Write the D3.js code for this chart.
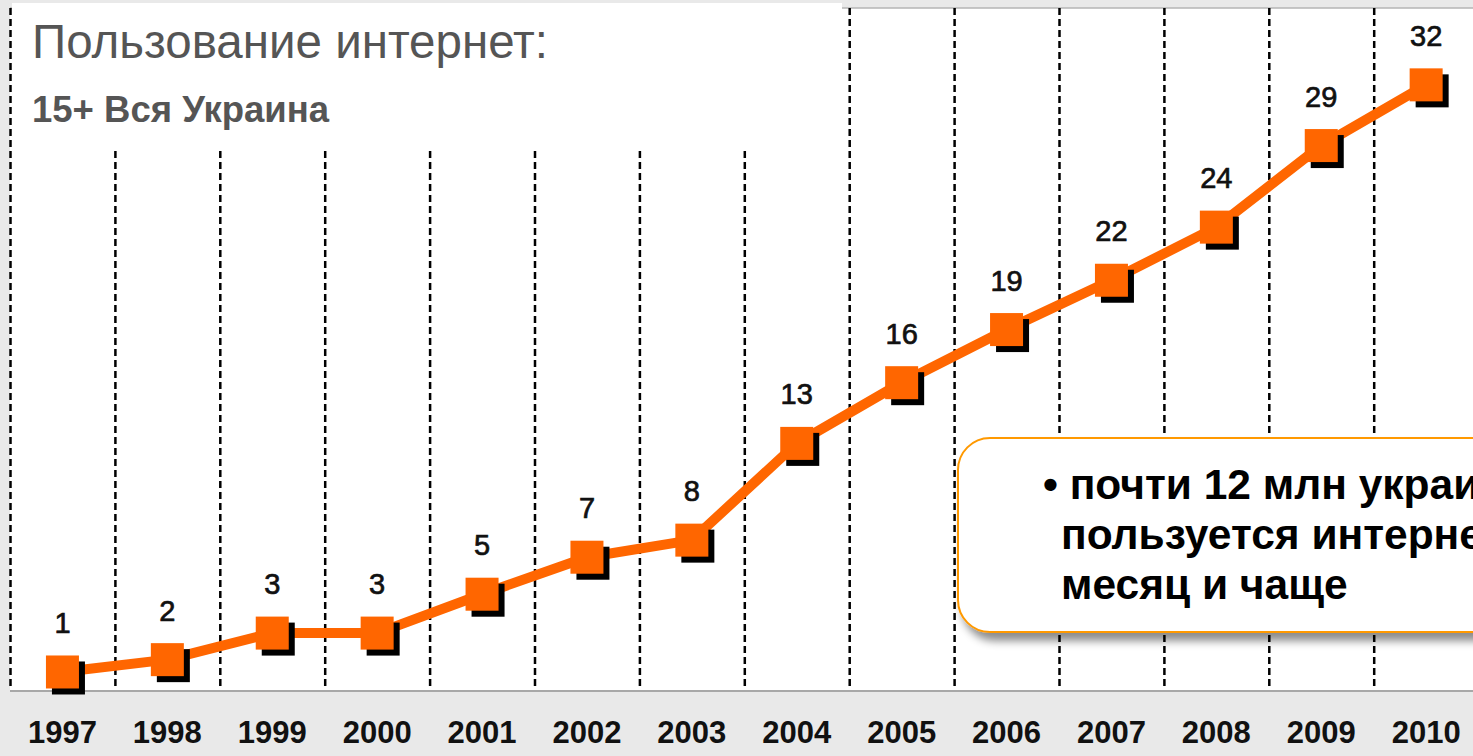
<!DOCTYPE html>
<html>
<head>
<meta charset="utf-8">
<script src="https://cdn.jsdelivr.net/npm/d3@7"></script>
<style>
  body { margin: 0; background: #e9e9e9; }
  svg { display: block; font-family: "Liberation Sans", Arial, sans-serif; }
</style>
</head>
<body>
<div id="chart"></div>
<script>
const years = ["1997", "1998", "1999", "2000", "2001", "2002", "2003",
               "2004", "2005", "2006", "2007", "2008", "2009", "2010"];
const usage = [0.95, 1.6, 3, 3, 5.05, 7, 7.9, 13, 16.2, 19, 21.6, 24.4, 28.7, 31.9];
const labels = ["1", "2", "3", "3", "5", "7", "8", "13", "16", "19", "22", "24", "29", "32"];

const title = "Пользование интернет:";
const subtitle = "15+ Вся Украина";
const note = ["• почти 12 млн украинцев", "пользуется интернетом раз в", "месяц и чаще"];

const width = 1473,
    height = 756;

const margin = { top: 8, left: 10, bottom: 66 };
const step = 104.9;

const x = d3.scaleBand()
    .domain(years)
    .range([margin.left, margin.left + step * years.length])
    .padding(0);

const y = d3.scaleLinear()
    .domain([0, 35])
    .range([height - margin.bottom, height - margin.bottom - 35 * 18.97]);

const orange = "#ff6600";

const svg = d3.select("#chart").append("svg")
    .attr("width", width)
    .attr("height", height);

const defs = svg.append("defs");
const shadow = defs.append("filter")
    .attr("id", "boxShadow")
    .attr("x", "-10%").attr("y", "-10%")
    .attr("width", "130%").attr("height", "140%");
shadow.append("feDropShadow")
    .attr("dx", 5)
    .attr("dy", 8)
    .attr("stdDeviation", 4)
    .attr("flood-color", "#000")
    .attr("flood-opacity", 0.45);

svg.append("rect")
    .attr("width", width)
    .attr("height", height)
    .attr("fill", "#e9e9e9");

// plot area
svg.append("rect")
    .attr("x", margin.left)
    .attr("y", margin.top)
    .attr("width", width - margin.left + 10)
    .attr("height", y(0) - margin.top)
    .attr("fill", "#fff");

svg.append("line")
    .attr("x1", margin.left).attr("x2", width)
    .attr("y1", margin.top).attr("y2", margin.top)
    .attr("stroke", "#b5b5b5")
    .attr("stroke-width", 1.5);

// dashed gridlines at band edges
svg.append("g")
    .selectAll("line")
    .data(years)
  .enter().append("line")
    .attr("x1", function(d) { return x(d) + 0.5; })
    .attr("x2", function(d) { return x(d) + 0.5; })
    .attr("y1", margin.top)
    .attr("y2", y(0))
    .attr("stroke", "#000")
    .attr("stroke-width", 2.5)
    .attr("stroke-dasharray", "7,4");

// title box covers the upper gridlines
svg.append("rect")
    .attr("x", margin.left + 2)
    .attr("y", 3)
    .attr("width", 830)
    .attr("height", 145)
    .attr("fill", "#fff");

svg.append("text")
    .attr("x", 32)
    .attr("y", 58)
    .attr("fill", "#555")
    .style("font-size", "47.5px")
    .text(title);

svg.append("text")
    .attr("x", 32)
    .attr("y", 122)
    .attr("fill", "#555")
    .style("font-size", "36.5px")
    .style("font-weight", "bold")
    .text(subtitle);

// x axis
svg.append("line")
    .attr("x1", margin.left).attr("x2", width)
    .attr("y1", y(0) + 1).attr("y2", y(0) + 1)
    .attr("stroke", "#a8a8a8")
    .attr("stroke-width", 2);

svg.append("g")
    .attr("transform", "translate(0," + y(0) + ")")
    .call(d3.axisBottom(x).tickSize(0).tickPadding(0))
    .call(function(g) { g.select(".domain").remove(); })
  .selectAll("text")
    .attr("y", 53)
    .attr("dy", 0)
    .attr("fill", "#111")
    .style("font-family", "\"Liberation Sans\", Arial, sans-serif")
    .style("font-size", "31px")
    .style("font-weight", "bold");

// callout
const callout = svg.append("g");
callout.append("rect")
    .attr("x", 958)
    .attr("y", 438)
    .attr("width", 620)
    .attr("height", 194)
    .attr("rx", 32)
    .attr("fill", "#fff")
    .attr("stroke", "#ff9900")
    .attr("stroke-width", 2)
    .attr("filter", "url(#boxShadow)");

callout.selectAll("text")
    .data(note)
  .enter().append("text")
    .attr("x", function(d, i) { return i === 0 ? 1043 : 1061; })
    .attr("y", function(d, i) { return 499 + i * 50; })
    .attr("fill", "#000")
    .style("font-size", "42.5px")
    .style("font-weight", "bold")
    .text(function(d) { return d; });

// line + markers
const cx = function(d, i) { return x(years[i]) + x.bandwidth() / 2; };

const line = d3.line()
    .x(cx)
    .y(function(d) { return y(d); });

svg.append("path")
    .datum(usage)
    .attr("d", line)
    .attr("fill", "none")
    .attr("stroke", orange)
    .attr("stroke-width", 10)
    .attr("stroke-linejoin", "round");

const sz = 33;

svg.append("g")
    .selectAll("rect")
    .data(usage)
  .enter().append("rect")
    .attr("x", function(d, i) { return cx(d, i) - sz / 2 + 6; })
    .attr("y", function(d) { return y(d) - sz / 2 + 6; })
    .attr("width", sz)
    .attr("height", sz)
    .attr("fill", "#000");

svg.append("g")
    .selectAll("rect")
    .data(usage)
  .enter().append("rect")
    .attr("x", function(d, i) { return cx(d, i) - sz / 2; })
    .attr("y", function(d) { return y(d) - sz / 2; })
    .attr("width", sz)
    .attr("height", sz)
    .attr("fill", orange);

svg.append("g")
    .selectAll("text")
    .data(usage)
  .enter().append("text")
    .attr("x", cx)
    .attr("y", function(d) { return y(d) - 39; })
    .attr("text-anchor", "middle")
    .attr("fill", "#111")
    .attr("stroke", "#111")
    .attr("stroke-width", 0.7)
    .style("font-size", "29px")
    .text(function(d, i) { return labels[i]; });
</script>
</body>
</html>
